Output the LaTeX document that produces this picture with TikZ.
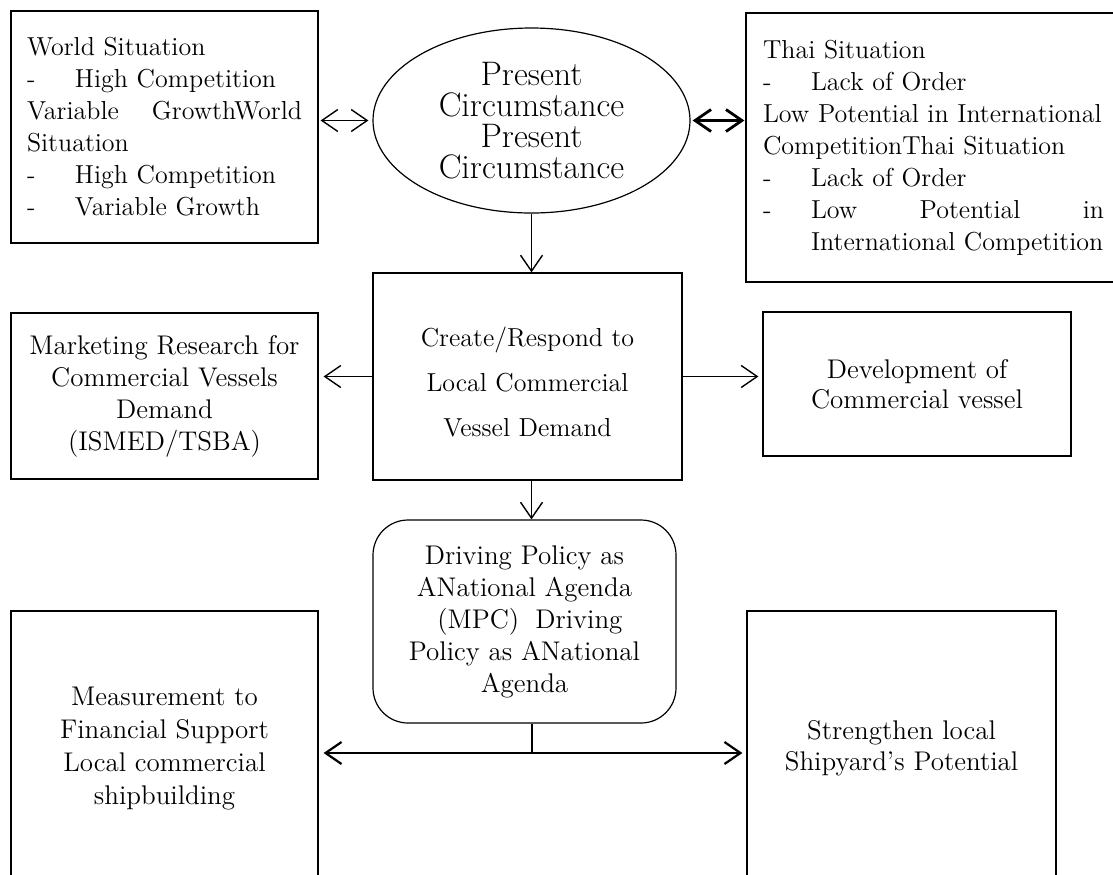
\documentclass[tikz,border=0pt]{standalone}
\usepackage{tikz}
\usepackage{xcolor}
\usetikzlibrary{shapes.geometric}
\usetikzlibrary{arrows.meta}
\usepackage{amsmath}
\newcommand{\fsz}[2]{\fontsize{#1}{#2}\selectfont}
\newcommand{\dsh}[1]{\makebox[24pt][l]{-}#1}

\begin{document}
\begin{tikzpicture}[x=0.5pt,y=-0.5pt,
 box/.style={rectangle,draw=black,line width=0.6pt,inner sep=0pt,align=center},
 lnk/.style={-{Straight Barb[length=8pt,width=11pt]},draw=black,line width=0.7pt},
 dbl/.style={{Straight Barb[length=8pt,width=11pt]}-{Straight Barb[length=8pt,width=11pt]},draw=black,line width=0.7pt}]
 \useasboundingbox (0,0) rectangle (1113,874);

 \draw (164.5,127)  node[box,align=left,text width=137.5pt,inner xsep=8pt,minimum height=116pt,font=\fsz{13}{16}] (W)
              {World Situation\\
               \dsh{High Competition}\\
               \makebox[137.5pt][l]{Variable\hfill GrowthWorld}\\
               Situation\\
               \dsh{High Competition}\\
               \dsh{Variable Growth}
              };

 \draw (531.5,120.5)  node[ellipse,draw=black,line width=0.6pt,minimum width=158.5pt,minimum height=92.5pt,inner sep=0pt,align=center,font=\fsz{17}{15.5}] (P)
              {Present\\Circumstance\\Present\\Circumstance
              };

 \draw (939,147.5)  node[box,align=left,text width=176pt,inner xsep=8.5pt,minimum height=134.5pt,font=\fsz{13}{16}] (T)
              {Thai Situation\\
               \dsh{Lack of Order}\\
               Low Potential in International\\
               CompetitionThai Situation\\
               \dsh{Lack of Order}\\
               \dsh{\makebox[146.5pt][l]{Low\hfill Potential\hfill in}}\\
               \hspace*{24pt}International Competition
              };

 \draw (527.5,376.5)  node[box,minimum width=154.5pt,minimum height=103.5pt,font=\fsz{13}{22.5}] (C)
              {\rule{0pt}{15pt}Create/Respond to\\Local Commercial\\Vessel Demand
              };

 \draw (164.5,396)  node[box,minimum width=153.5pt,minimum height=83pt,font=\fsz{13.5}{16}] (M)
              {Marketing Research for\\Commercial Vessels\\Demand\\(ISMED/TSBA)
              };

 \draw (917,384)  node[box,minimum width=154pt,minimum height=72pt,font=\fsz{13.5}{15}] (V)
              {Development of\\Commercial vessel
              };

 \draw (524.5,621.5)  node[box,rounded corners=17.5pt,minimum width=151.5pt,minimum height=101.5pt,font=\fsz{13.5}{16}] (D)
              {Driving Policy as\\ANational Agenda\\\hspace*{0.4em}(MPC)\hspace{0.6em}Driving\\Policy as ANational\\Agenda
              };

 \draw (164.5,749)  node[box,minimum width=153.5pt,minimum height=138pt,font=\fsz{13.5}{16.5}] (F)
              {Measurement to\\Financial Support\\Local commercial\\shipbuilding
              };

 \draw (901.5,748.5)  node[box,minimum width=154.5pt,minimum height=137.5pt,font=\fsz{13.5}{15.5}] (S)
              {Strengthen local\\Shipyard's Potential
              };

 \coordinate (J) at (532,753);

 \draw[dbl,shorten <=1pt,shorten >=2pt] (W.east |- P.west) -- (P.west);

 \draw[dbl,line width=1.4pt,shorten <=1pt,shorten >=0.5pt] (P.east) -- (T.west |- P.east);

 \draw[lnk] (P.south) -- (P.south |- C.north);

 \draw[lnk,shorten >=2.5pt] (C.west) -- (M.east |- C.west);

 \draw[lnk,shorten >=2pt] (C.east) -- (V.west |- C.east);

 \draw[lnk] (C.south -| P.south) -- (P.south |- D.north);

 \draw[-,draw=black,line width=0.6pt] (J |- D.south) -- (J);

 \draw[dbl,line width=1.1pt,shorten <=2.5pt,shorten >=2pt] (F.east |- J) -- (S.west |- J);

\end{tikzpicture}
\end{document}
